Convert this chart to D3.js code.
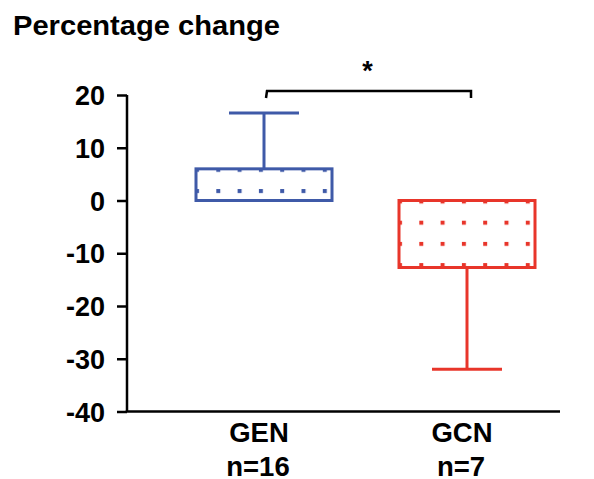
<!DOCTYPE html>
<html>
<head>
<meta charset="utf-8">
<script src="https://d3js.org/d3.v7.min.js"></script>
<style>
  body { margin: 0; background: #fff; }
  text { font-family: "Liberation Sans", Arial, sans-serif; font-weight: bold; fill: #000; }
</style>
</head>
<body>
<div id="chart"></div>
<script>
// box plot data
var groups = ["GEN", "GCN"];
var groupN = ["n=16", "n=7"];
var colors = ["#3f5aa8", "#e8352a"];
var q1 = [0, -12.7];
var q3 = [6, 0];
var median = [0, 0];
var whiskerLow = [0, -32];
var whiskerHigh = [16.6, 0];
var yTicks = [20, 10, 0, -10, -20, -30, -40];

var W = 594, H = 479;
var axisX = 127, axisBottom = 411.5, axisRight = 560;

var svg = d3.select("#chart").append("svg")
  .attr("width", W)
  .attr("height", H);

var y = d3.scaleLinear().domain([-40, 20]).range([axisBottom, 95]);
var x = d3.scalePoint().domain(groups).range([264, 467]);

var boxHalf = 68, capHalf = 35;

// title
svg.append("text")
  .attr("x", 13).attr("y", 35)
  .attr("font-size", "28px")
  .attr("textLength", 267)
  .attr("lengthAdjust", "spacingAndGlyphs")
  .text("Percentage change");

// y axis
var yAxis = svg.append("g")
  .attr("transform", "translate(" + axisX + ",0)")
  .call(d3.axisLeft(y).tickValues(yTicks).tickSize(10).tickSizeOuter(0).tickPadding(12)
    .tickFormat(function(d){ return String(d); }));
yAxis.select(".domain").attr("stroke", "#000").attr("stroke-width", 2.5)
  .attr("d", "M0," + y(20) + "V" + axisBottom);
yAxis.selectAll(".tick line").attr("stroke", "#000").attr("stroke-width", 2.5);
yAxis.selectAll(".tick text")
  .attr("font-size", "27px")
  .attr("font-family", "Liberation Sans, Arial, sans-serif")
  .attr("font-weight", "bold")
  .attr("fill", "#000")
  .attr("dy", "0.36em");

// x axis line
svg.append("line")
  .attr("x1", axisX - 1.25).attr("x2", axisRight)
  .attr("y1", axisBottom).attr("y2", axisBottom)
  .attr("stroke", "#000").attr("stroke-width", 2.5);

// category labels
svg.selectAll(".grpLabel")
  .data(groups)
  .enter().append("text")
  .attr("class", "grpLabel")
  .attr("x", function(d){ return x(d) - 5; })
  .attr("y", 442)
  .attr("text-anchor", "middle")
  .attr("font-size", "27.5px")
  .text(function(d){ return d; });

svg.selectAll(".nLabel")
  .data(groupN)
  .enter().append("text")
  .attr("class", "nLabel")
  .attr("x", function(d, i){ return x(groups[i]) - 6; })
  .attr("y", 476)
  .attr("text-anchor", "middle")
  .attr("font-size", "27.5px")
  .text(function(d){ return d; });

// dotted pattern fills, one per box so the dots line up with each box corner
var defs = svg.append("defs");
groups.forEach(function(g, i){
  var pat = defs.append("pattern")
    .attr("id", "dots" + i)
    .attr("patternUnits", "userSpaceOnUse")
    .attr("x", x(g) - boxHalf - 1)
    .attr("y", y(q3[i]) - 1)
    .attr("width", 21.3)
    .attr("height", 21.2);
  pat.append("rect")
    .attr("x", 0).attr("y", 0)
    .attr("width", 4).attr("height", 4)
    .attr("fill", colors[i]);
});

var box = svg.selectAll(".box")
  .data(groups)
  .enter().append("g")
  .attr("class", "box");

// whiskers
box.append("line")
  .attr("x1", function(d){ return x(d); })
  .attr("x2", function(d){ return x(d); })
  .attr("y1", function(d, i){ return y(whiskerLow[i]); })
  .attr("y2", function(d, i){ return y(whiskerHigh[i]); })
  .attr("stroke", function(d, i){ return colors[i]; })
  .attr("stroke-width", 3);

box.append("line")
  .attr("x1", function(d){ return x(d) - capHalf; })
  .attr("x2", function(d){ return x(d) + capHalf; })
  .attr("y1", function(d, i){ return y(whiskerHigh[i]); })
  .attr("y2", function(d, i){ return y(whiskerHigh[i]); })
  .attr("stroke", function(d, i){ return colors[i]; })
  .attr("stroke-width", function(d, i){ return whiskerHigh[i] > q3[i] ? 3 : 0; });

box.append("line")
  .attr("x1", function(d){ return x(d) - capHalf; })
  .attr("x2", function(d){ return x(d) + capHalf; })
  .attr("y1", function(d, i){ return y(whiskerLow[i]); })
  .attr("y2", function(d, i){ return y(whiskerLow[i]); })
  .attr("stroke", function(d, i){ return colors[i]; })
  .attr("stroke-width", function(d, i){ return whiskerLow[i] < q1[i] ? 3 : 0; });

// boxes
box.append("rect")
  .attr("x", function(d){ return x(d) - boxHalf; })
  .attr("y", function(d, i){ return y(q3[i]); })
  .attr("width", boxHalf * 2)
  .attr("height", function(d, i){ return y(q1[i]) - y(q3[i]); })
  .attr("fill", "#fff")
  .attr("stroke", "none");

box.append("rect")
  .attr("x", function(d){ return x(d) - boxHalf; })
  .attr("y", function(d, i){ return y(q3[i]); })
  .attr("width", boxHalf * 2)
  .attr("height", function(d, i){ return y(q1[i]) - y(q3[i]); })
  .attr("fill", function(d, i){ return "url(#dots" + i + ")"; })
  .attr("stroke", function(d, i){ return colors[i]; })
  .attr("stroke-width", 3);

box.append("line")
  .attr("x1", function(d){ return x(d) - boxHalf; })
  .attr("x2", function(d){ return x(d) + boxHalf; })
  .attr("y1", function(d, i){ return y(median[i]); })
  .attr("y2", function(d, i){ return y(median[i]); })
  .attr("stroke", function(d, i){ return colors[i]; })
  .attr("stroke-width", 3);

// significance bracket
var bracketY = 91;
svg.append("path")
  .attr("d", "M" + (x("GEN") + 2) + "," + (bracketY + 7) + "L" + (x("GEN") + 3) + "," + bracketY +
             "H" + (x("GCN") + 4) + "V" + (bracketY + 7))
  .attr("fill", "none")
  .attr("stroke", "#000")
  .attr("stroke-width", 2.5);

svg.append("text")
  .attr("x", (x("GEN") + x("GCN")) / 2 + 2)
  .attr("y", 80)
  .attr("text-anchor", "middle")
  .attr("font-size", "27px")
  .text("*");
</script>
</body>
</html>
